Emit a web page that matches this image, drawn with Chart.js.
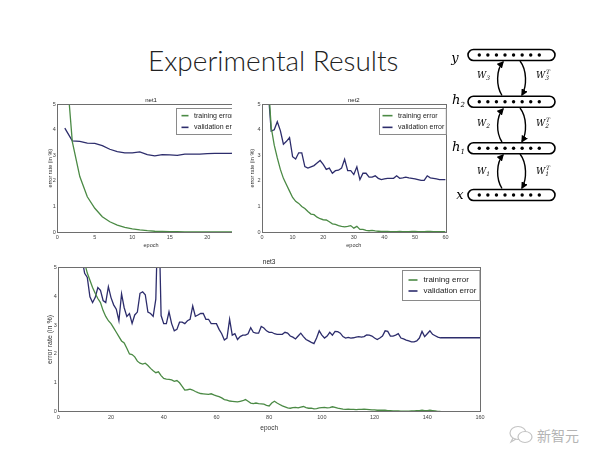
<!DOCTYPE html>
<html><head><meta charset="utf-8">
<script src="https://cdn.jsdelivr.net/npm/chart.js@4.4.0/dist/chart.umd.min.js"></script>
<style>
html,body{margin:0;padding:0;background:#fff;width:600px;height:463px;overflow:hidden;position:relative;}
.box{position:absolute;overflow:hidden;}
#title{position:absolute;left:148px;top:44px;font-family:Lato,'Open Sans',sans-serif;font-weight:300;font-size:28px;line-height:32px;color:#222;white-space:nowrap;}
#wm{position:absolute;left:537px;top:425px;font-family:'Noto Sans CJK SC',sans-serif;font-size:14px;line-height:20px;color:#b4b4b4;}
</style></head><body>
<div id="title">Experimental Results</div>
<div class="box" style="left:44px;top:92px;width:188px;height:163px"><canvas id="c1" width="206" height="163"></canvas></div>
<div class="box" style="left:248px;top:92px;width:204px;height:163px"><canvas id="c2" width="204" height="163"></canvas></div>
<div class="box" style="left:44px;top:254px;width:444px;height:180px"><canvas id="c3" width="444" height="180"></canvas></div>

<svg style="position:absolute;left:448px;top:40px" width="152" height="180" viewBox="448 40 152 180">
<defs><marker id="ah" viewBox="0 0 10 10" refX="8" refY="5" markerWidth="5" markerHeight="5" orient="auto"><path d="M0,0 L10,5 L0,10 z" fill="#000"/></marker></defs>
<g fill="none" stroke="#000" stroke-width="1.6">
<rect x="468" y="49.5" width="87" height="11" rx="5.5"/>
<rect x="468" y="96.2" width="87" height="11" rx="5.5"/>
<rect x="468" y="142.8" width="87" height="11" rx="5.5"/>
<rect x="468" y="189.5" width="87" height="11" rx="5.5"/>
</g>
<g fill="#000" id="dots"></g>
<g fill="none" stroke="#000" stroke-width="1.4">
<path d="M502,95.5 C496,86 496,70 503,62" marker-end="url(#ah)"/>
<path d="M520,61 C527,70 527,86 522,95" marker-end="url(#ah)"/>
<path d="M502,142 C496,133 496,117 503,109" marker-end="url(#ah)"/>
<path d="M520,108 C527,117 527,133 522,141.5" marker-end="url(#ah)"/>
<path d="M502,188.5 C496,179 496,163 503,155" marker-end="url(#ah)"/>
<path d="M520,154 C527,163 527,179 522,188" marker-end="url(#ah)"/>
</g>
<g font-family="'DejaVu Serif','Liberation Serif',serif" font-style="italic" fill="#000">
<text x="455" y="62" font-size="13" text-anchor="middle">y</text>
<text x="452" y="104" font-size="13">h<tspan font-size="7" dy="3">2</tspan></text>
<text x="452" y="151" font-size="13">h<tspan font-size="7" dy="3">1</tspan></text>
<text x="460" y="199" font-size="13" text-anchor="middle">x</text>
<text x="477" y="78" font-size="9">W<tspan font-size="6" dy="2">3</tspan></text>
<text x="536" y="78" font-size="9">W<tspan font-size="6" dy="2">3</tspan><tspan font-size="6" dx="-3" dy="-6">T</tspan></text>
<text x="477" y="126" font-size="9">W<tspan font-size="6" dy="2">2</tspan></text>
<text x="536" y="126" font-size="9">W<tspan font-size="6" dy="2">2</tspan><tspan font-size="6" dx="-3" dy="-6">T</tspan></text>
<text x="477" y="174" font-size="9">W<tspan font-size="6" dy="2">1</tspan></text>
<text x="536" y="174" font-size="9">W<tspan font-size="6" dy="2">1</tspan><tspan font-size="6" dx="-3" dy="-6">T</tspan></text>
</g>
</svg>
<svg style="position:absolute;left:508px;top:425px" width="28" height="20">
<g fill="none" stroke="#c4c4c4" stroke-width="1.2">
<ellipse cx="10" cy="8" rx="8" ry="6.5"/>
<ellipse cx="17" cy="12" rx="7" ry="5.5" fill="#fff"/>
<path d="M5,13 L3,17 L8,14"/>
</g>
</svg>
<div id="wm">新智元</div>

<script>
// ---------- data ----------
const net1Epochs = [1,2,3,4,5,6,7,8,9,10,11,12,13,14,15,16,17,18,19,20,21,22,23,24,25];
const net1Train = [7.2,3.54,2.17,1.38,0.93,0.6,0.4,0.27,0.18,0.12,0.08,0.05,0.03,0.02,0.01,0.01,0,0,0,0,0,0,0,0,0];
const net1Val = [4.07,3.57,3.55,3.48,3.47,3.38,3.24,3.15,3.1,3.1,3.14,3.03,2.98,3.03,3.02,3.0,3.05,3.05,3.05,3.07,3.08,3.08,3.08,3.09,3.09];

const net2Epochs = [1,2,3,4,5,6,7,8,9,10,11,12,13,14,15,16,17,18,19,20,21,22,23,24,25,26,27,28,29,30,
  31,32,33,34,35,36,37,38,39,40,41,42,43,44,45,46,47,48,49,50,51,52,53,54,55,56,57,58,59,60];
const net2Train = [9,6.0,4.1,3.4,2.9,2.45,2.1,1.85,1.6,1.35,
  1.2,1.12,1.0,0.92,0.8,0.7,0.68,0.58,0.52,0.48,
  0.47,0.4,0.32,0.3,0.25,0.22,0.2,0.22,0.25,0.15,
  0.22,0.1,0.1,0.06,0.05,0.06,0.04,0.03,0.02,0.02,
  0.02,0.01,0.01,0.01,0.02,0.01,0.01,0.01,0.02,0.02,
  0.01,0.01,0.01,0.02,0.02,0.01,0.01,0.01,0.01,0.01];
const net2Val = [6.5,5.6,3.95,4.0,4.32,3.97,3.44,3.55,3.7,2.95,
  2.86,3.1,3.1,2.56,2.5,2.55,2.6,2.7,2.8,2.65,
  2.45,2.5,2.3,2.4,2.42,2.5,2.85,2.4,2.4,2.25,
  2.55,2.05,2.3,2.3,2.15,2.15,2.2,2.1,2.05,2.08,
  2.1,2.1,2.1,2.2,2.1,2.12,2.15,2.12,2.1,2.08,
  2.05,2.02,2.02,2.2,2.12,2.1,2.08,2.05,2.05,2.05];

const net3Epochs = [1,2,3,4,5,6,7,8,9,10,11,12,13,14,15,16,17,18,19,20,21,22,23,24,25,26,27,28,29,30,
  31,32,33,34,35,36,37,38,39,40,41,42,43,44,45,46,47,48,49,50,51,52,53,54,55,56,57,58,59,60,
  61,62,63,64,65,66,67,68,69,70,71,72,73,74,75,76,77,78,79,80,81,82,83,84,85,86,87,88,89,90,
  91,92,93,94,95,96,97,98,99,100,101,102,103,104,105,106,107,108,109,110,111,112,113,114,115,116,117,118,119,120,
  121,122,123,124,125,126,127,128,129,130,131,132,133,134,135,136,137,138,139,140,141,142,143,144,145,146,147,148,149,150,
  151,152,153,154,155,156,157,158,159,160];
const net3Train = [30,22,17,13,10.5,8.5,7.2,6.3,5.7,5.15,
  4.8,4.55,4.3,4.1,3.92,3.78,3.5,3.3,3.15,3.05,
  2.9,2.75,2.6,2.45,2.38,2.2,2.0,1.98,1.9,1.75,
  1.68,1.65,1.68,1.6,1.5,1.42,1.35,1.38,1.25,1.15,
  1.13,1.12,1.1,1.05,1.08,1.0,0.88,0.75,0.76,0.78,
  0.75,0.7,0.66,0.63,0.62,0.61,0.6,0.62,0.58,0.55,
  0.52,0.48,0.42,0.4,0.37,0.36,0.35,0.34,0.36,0.38,
  0.42,0.36,0.3,0.28,0.3,0.28,0.27,0.26,0.22,0.2,
  0.3,0.36,0.3,0.25,0.2,0.17,0.13,0.12,0.14,0.15,
  0.13,0.16,0.18,0.14,0.12,0.12,0.1,0.11,0.13,0.14,
  0.15,0.13,0.14,0.17,0.15,0.12,0.11,0.09,0.08,0.09,
  0.08,0.08,0.07,0.08,0.08,0.09,0.08,0.07,0.06,0.06,
  0.05,0.05,0.05,0.05,0.04,0.04,0.03,0.03,0.03,0.02,
  0.02,0.02,0.02,0.03,0.03,0.04,0.04,0.05,0.04,0.04,
  0.05,0.04,0.03,0.01,0.01];
const net3Val = [9,8,7.5,7,6.5,6.2,5.9,5.6,5.3,4.79,
  4.65,3.98,3.78,3.95,4.3,4.2,3.85,3.78,4.33,3.95,
  3.7,3.55,3.15,4.08,3.6,3.3,3.4,3.06,3.35,3.45,
  4.1,4.15,4.05,3.45,3.4,3.3,3.9,7.5,3.33,3.05,
  3.05,3.46,3.05,2.8,2.85,3.1,3.1,3.05,3.15,3.2,
  3.66,3.3,3.35,3.4,3.4,3.2,3.2,3.05,3.05,3.05,
  2.85,2.7,2.48,2.55,3.2,2.65,2.7,2.5,2.6,2.65,
  2.65,2.7,2.91,2.75,2.72,2.72,2.95,2.9,2.8,2.75,
  2.75,2.7,2.68,2.68,2.68,2.75,2.72,2.62,2.58,2.52,
  2.62,2.72,2.6,2.5,2.45,2.4,2.36,2.55,2.8,2.65,
  2.55,2.62,2.75,2.65,2.78,2.77,2.72,2.6,2.55,2.57,
  2.55,2.56,2.58,2.6,2.58,2.6,2.66,2.65,2.62,2.55,
  2.5,2.55,2.62,2.8,2.78,2.62,2.62,2.65,2.7,2.55,
  2.52,2.48,2.45,2.42,2.42,2.45,2.55,2.78,2.6,2.7,
  2.8,2.68,2.63,2.58,2.56,2.56,2.56,2.56,2.56,2.56,
  2.56,2.56,2.56,2.56,2.56,2.56,2.56,2.56,2.56,2.56];

const seriesLabels = ['training error', 'validation error'];
const yTicks = [0,1,2,3,4,5];

// ---------- diagram dots ----------
(function(){
  const g = document.getElementById('dots');
  const rows = [55, 101.7, 148.3, 195];
  rows.forEach(cy => { for (let i = 0; i < 8; i++) {
    const c = document.createElementNS('http://www.w3.org/2000/svg','circle');
    c.setAttribute('cx', 479.3 + i*8.57); c.setAttribute('cy', cy); c.setAttribute('r', 1.7);
    g.appendChild(c);
  }});
})();

// ---------- plugins ----------
const frame = {
  id: 'frame',
  afterDatasetsDraw(chart) {
    const a = chart.chartArea, ctx = chart.ctx;
    ctx.save(); ctx.strokeStyle = '#6e6e6e'; ctx.lineWidth = 1;
    ctx.strokeRect(Math.round(a.left)+0.5, Math.round(a.top)+0.5, Math.round(a.right-a.left), Math.round(a.bottom-a.top));
    ctx.restore();
  }
};
const boxLegend = {
  id: 'boxLegend',
  afterDatasetsDraw(chart, args, o) {
    const ctx = chart.ctx, a = chart.chartArea;
    ctx.save();
    ctx.font = o.fontSize + "px 'Liberation Sans', Arial, sans-serif";
    const items = chart.data.datasets.map(d => ({text: d.label, color: d.borderColor}));
    const tw = Math.max(...items.map(i => ctx.measureText(i.text).width));
    const w = o.padX + o.lineLen + o.gap + tw + o.padRight;
    const h = o.padY*2 + items.length*o.rowH;
    const x0 = Math.round(a.right - o.inset - w) + 0.5, y0 = Math.round(a.top + o.insetTop) + 0.5;
    ctx.fillStyle = '#fff'; ctx.fillRect(x0, y0, w, h);
    ctx.strokeStyle = '#8a8a8a'; ctx.lineWidth = 1; ctx.strokeRect(x0, y0, w, h);
    items.forEach((it, i) => {
      const cy = y0 + o.padY + o.rowH*(i+0.5);
      ctx.strokeStyle = it.color; ctx.lineWidth = 1.6;
      ctx.beginPath(); ctx.moveTo(x0+o.padX, cy); ctx.lineTo(x0+o.padX+o.lineLen, cy); ctx.stroke();
      ctx.fillStyle = '#222'; ctx.textBaseline = 'middle'; ctx.textAlign = 'left';
      ctx.fillText(it.text, x0+o.padX+o.lineLen+o.gap, cy);
    });
    ctx.restore();
  }
};

const GREEN = '#4b8a45', NAVY = '#2d2d6c';
const FONT = "'Liberation Sans', Arial, sans-serif";

function makeChart(id, cfg) {
  const toPts = (xs, ys) => ys.map((v, i) => ({x: xs[i], y: v}));
  return new Chart(document.getElementById(id), {
    type: 'line',
    data: { datasets: [
      {label: seriesLabels[0], data: toPts(cfg.epochs, cfg.train), borderColor: GREEN, backgroundColor: GREEN, borderWidth: 1.3, pointRadius: 0, tension: 0},
      {label: seriesLabels[1], data: toPts(cfg.epochs, cfg.val), borderColor: NAVY, backgroundColor: NAVY, borderWidth: 1.3, pointRadius: 0, tension: 0}
    ]},
    options: {
      responsive: false, animation: false, events: [],
      layout: { padding: {left: 0, top: 0, right: cfg.padRight, bottom: cfg.padBottom} },
      plugins: {
        legend: {display: false}, tooltip: {enabled: false},
        title: {display: true, text: cfg.title, fullSize: false, color: '#222',
          font: {family: FONT, size: cfg.titleSize, weight: 'normal', lineHeight: 1.2}, padding: {top: cfg.titlePadTop, bottom: cfg.titlePadBottom}},
        boxLegend: cfg.legend
      },
      scales: {
        x: { type: 'linear', min: 0, max: cfg.xMax,
          grid: {display: false, drawTicks: false}, border: {display: false},
          ticks: {stepSize: cfg.xStep, font: {family: FONT, size: 5.5}, color: '#444', padding: cfg.xTickPad, maxRotation: 0},
          title: {display: true, text: 'epoch', color: '#333', font: {family: FONT, size: cfg.xTitleSize, lineHeight: 1.2}, padding: {top: 0, bottom: cfg.xTitlePadBottom}},
          afterFit(s) { s.height = cfg.xAxisH; }
        },
        y: { min: 0, max: 5,
          grid: {display: false, drawTicks: false}, border: {display: false},
          afterBuildTicks(s) { s.ticks = yTicks.map(v => ({value: v})); },
          ticks: {font: {family: FONT, size: 5.5}, color: '#444', padding: 1.5},
          title: {display: true, text: 'error rate (in %)', color: '#333', font: {family: FONT, size: cfg.yTitleSize, lineHeight: 1.2}, padding: {top: cfg.yTitlePadTop, bottom: 0}},
          afterFit(s) { s.width = cfg.yAxisW; }
        }
      }
    },
    plugins: [frame, boxLegend]
  });
}

makeChart('c1', {epochs: net1Epochs, train: net1Train, val: net1Val, title: 'net1', xMax: 25, xStep: 5,
  padRight: 5.2, padBottom: 6, titleSize: 6, titlePadTop: 4.4, titlePadBottom: 0.7,
  xTickPad: 2, xTitleSize: 5.5, xTitlePadBottom: 0.7, xAxisH: 17, yAxisW: 13.3, yTitleSize: 5.5, yTitlePadTop: 2.7,
  legend: {fontSize: 7, padX: 5, lineLen: 7, gap: 5.5, padRight: 3, padY: 1.3, rowH: 11.7, inset: 2, insetTop: 3.7}});
makeChart('c2', {epochs: net2Epochs, train: net2Train, val: net2Val, title: 'net2', xMax: 60, xStep: 10,
  padRight: 6.4, padBottom: 6, titleSize: 6, titlePadTop: 4.4, titlePadBottom: 0.7,
  xTickPad: 2, xTitleSize: 5.5, xTitlePadBottom: 0.7, xAxisH: 17, yAxisW: 14, yTitleSize: 5.5, yTitlePadTop: 1.4,
  legend: {fontSize: 7, padX: 3, lineLen: 10, gap: 5.5, padRight: 2, padY: 1.3, rowH: 11.7, inset: 0, insetTop: 3.7}});
makeChart('c3', {epochs: net3Epochs, train: net3Train, val: net3Val, title: 'net3', xMax: 160, xStep: 20,
  padRight: 8, padBottom: 2.3, titleSize: 6.5, titlePadTop: 4.1, titlePadBottom: 1.4,
  xTickPad: 2, xTitleSize: 6.5, xTitlePadBottom: 0, xAxisH: 20, yAxisW: 14.3, yTitleSize: 7, yTitlePadTop: 1.8,
  legend: {fontSize: 8, padX: 6, lineLen: 9, gap: 6, padRight: 3.5, padY: 4, rowH: 11, inset: 1, insetTop: 2.7}});
</script>
</body></html>
